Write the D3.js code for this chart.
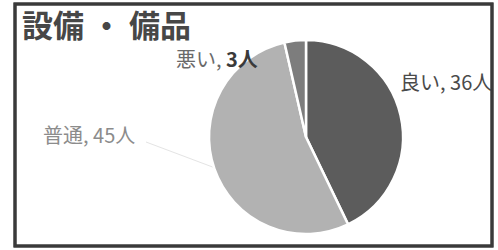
<!DOCTYPE html>
<html>
<head>
<meta charset="utf-8">
<script src="https://cdn.jsdelivr.net/npm/d3@7"></script>
<style>
  html, body { margin: 0; padding: 0; background: #fff; }
  svg { display: block; font-family: "Noto Sans CJK JP", "Noto Sans", sans-serif; }
</style>
</head>
<body>
<div id="chart"></div>
<script>
const titleParts = ['設備', '・', '備品'];
const categories = ['良い', '普通', '悪い'];
const counts = [36, 45, 3];
const unit = '人';

const W = 498, H = 250;
const svg = d3.select('#chart').append('svg').attr('width', W).attr('height', H);

// frame
svg.append('rect')
  .attr('x', 15).attr('y', 4).attr('width', 477).attr('height', 242)
  .attr('fill', '#fff').attr('stroke', '#3a3a3a').attr('stroke-width', 3);

const title = svg.append('text')
  .attr('x', 22).attr('y', 37)
  .attr('font-size', 31).attr('font-weight', 'bold')
  .attr('fill', '#474747');
title.selectAll('tspan')
  .data(titleParts)
  .enter()
  .append('tspan')
  .attr('dx', (d, i) => (i === 0 ? 0 : 7))
  .text(d => d);

const data = categories.map((c, i) => ({ cat: c, n: counts[i] }));
const color = d3.scaleOrdinal().domain(categories).range(['#5c5c5c', '#b2b2b2', '#7d7d7d']);

const cx = 306, cy = 137, r = 97;
const pie = d3.pie().value(d => d.n).sort(null);
const arc = d3.arc().innerRadius(0).outerRadius(r);
const arcs = pie(data);

const g = svg.append('g').attr('transform', `translate(${cx},${cy})`);

// leader line for the middle label
const mid = arcs[1];
const a = (mid.startAngle + mid.endAngle) / 2;
g.append('line')
  .attr('x1', -160).attr('y1', 5)
  .attr('x2', Math.sin(a) * r * 0.98).attr('y2', -Math.cos(a) * r * 0.98)
  .attr('stroke', '#e4e4e4').attr('stroke-width', 1);

g.selectAll('path')
  .data(arcs)
  .enter()
  .append('path')
  .attr('d', arc)
  .attr('fill', d => color(d.data.cat))
  .attr('stroke', '#fff')
  .attr('stroke-width', 2.5);

// labels
const labelPos = {
  '良い': { x: 400, y: 90, fill: '#4a4a4a', numFill: '#4a4a4a', bold: false },
  '普通': { x: 43, y: 143, fill: '#8c8c8c', numFill: '#8c8c8c', bold: false },
  '悪い': { x: 176, y: 67, fill: '#6a6a6a', numFill: '#3a3a3a', bold: true }
};
svg.append('clipPath').attr('id', 'frameclip')
  .append('rect').attr('x', 16).attr('y', 5).attr('width', 475).attr('height', 240);

const labels = svg.append('g').attr('clip-path', 'url(#frameclip)')
  .selectAll('text')
  .data(data)
  .enter()
  .append('text')
  .attr('x', d => labelPos[d.cat].x)
  .attr('y', d => labelPos[d.cat].y)
  .attr('font-size', 20)
  .attr('fill', d => labelPos[d.cat].fill);
labels.append('tspan').text(d => `${d.cat}, `);
labels.append('tspan')
  .attr('fill', d => labelPos[d.cat].numFill)
  .attr('font-weight', d => (labelPos[d.cat].bold ? 'bold' : 'normal'))
  .text(d => `${d.n}${unit}`);

// frame border redrawn on top
svg.append('rect')
  .attr('x', 15).attr('y', 4).attr('width', 477).attr('height', 242)
  .attr('fill', 'none').attr('stroke', '#3a3a3a').attr('stroke-width', 3);
</script>
</body>
</html>
